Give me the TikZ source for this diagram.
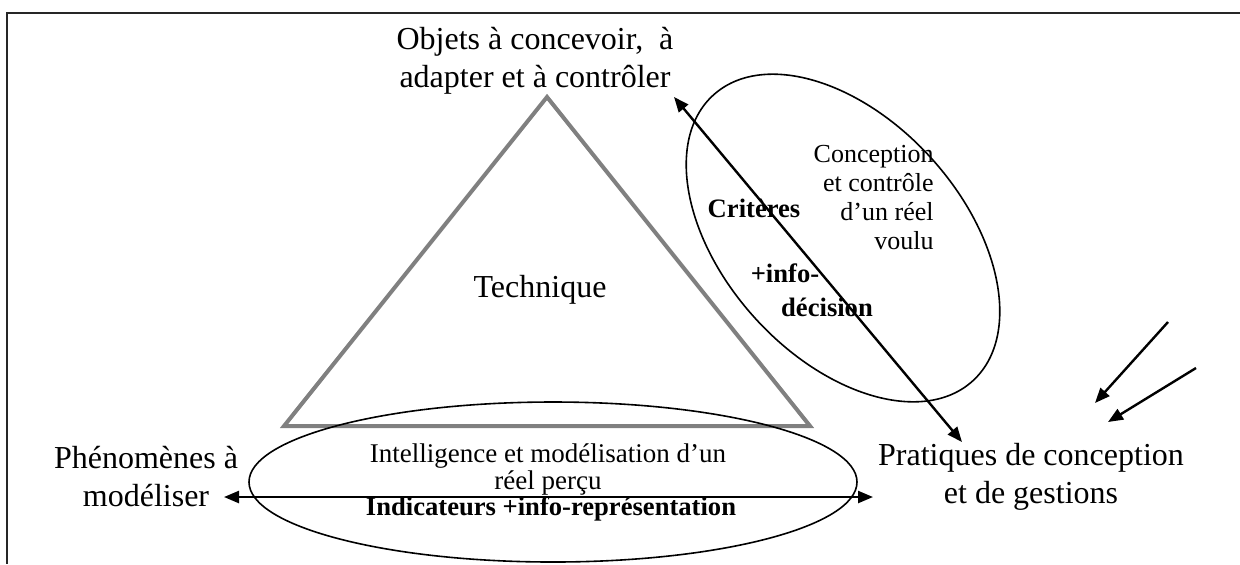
\documentclass[tikz,border=0pt]{standalone}
\usepackage{fontspec}
\setmainfont{Liberation Serif}
\usepackage{tikz}
\usetikzlibrary{arrows.meta}
\usetikzlibrary{positioning}
\tikzset{>={Triangle[length=7.5pt,width=6pt]}}
\tikzset{
  biglabel/.style={font=\fontsize{16}{19}\selectfont, align=center, inner sep=0pt},
  smalllabel/.style={font=\fontsize{13.5}{13.5}\selectfont, align=center, inner sep=0pt},
  boldlabel/.style={font=\fontsize{13.3}{14}\selectfont\bfseries, inner sep=0pt},
  flow/.style={<->, line width=1.2pt},
  ring/.style={line width=0.8pt}
}

\begin{document}
\begin{tikzpicture}[x=0.5pt,y=-0.5pt]
    \useasboundingbox (0,0) rectangle (1240,564);
    % frame
    \draw[line width=1pt, black!85] (1240,13) -- (7,13) -- (7,564);
    % triangle
    \coordinate (apex) at (547,97);
    \coordinate (bl) at (284,426);
    \coordinate (br) at (810,426);
    \draw[gray, line width=2pt] (apex) -- (bl) -- (br) -- cycle;
    % ellipses
    \draw[ring] (553,482) ellipse [x radius=304, y radius=80];
    \draw[ring, rotate around={-47.8:(843,238)}] (843,238) ellipse [x radius=193, y radius=119];
    % labels
    \node[biglabel] (objets) at (535,61) {Objets à concevoir,\ \ à\\adapter et à contrôler};
    \node[biglabel] (technique) at (540,290) {Technique};
    \node[biglabel] (phenomenes) at (146,477) {Phénomènes à\\modéliser};
    \node[biglabel] (pratiques) at (1031,477) {Pratiques de conception\\et de gestions};
    \node[smalllabel] (intelligence) at (548,469) {Intelligence et modélisation d'un\\réel perçu};
    \node[boldlabel] (indicateurs) at (551,509) {Indicateurs +info-représentation};
    \node[smalllabel, align=right, anchor=east, font=\fontsize{13}{14.5}\selectfont] (conception) at (934,198) {Conception\\et contrôle\\d'un réel\\voulu};
    \node[boldlabel] (criteres) at (754,208) {Critères};
    \node[boldlabel] (info) at (785,273) {+info-};
    \node[boldlabel] (decision) at (827,307) {décision};
    % arrows
    \coordinate (hl) at (224,497);
    \coordinate (hr) at (873,497);
    \coordinate (dtop) at (674,97);
    \coordinate (dbot) at (962,442);
    \coordinate (ua) at (1168,322);
    \coordinate (ub) at (1095,403);
    \coordinate (va) at (1196,368);
    \coordinate (vb) at (1108,422);
    \draw[flow] (hl) -- (hr);
    \draw[flow] (dtop) -- (dbot);
    \draw[->, line width=1.2pt] (ua) -- (ub);
    \draw[->, line width=1.2pt] (va) -- (vb);
\end{tikzpicture}
\end{document}
